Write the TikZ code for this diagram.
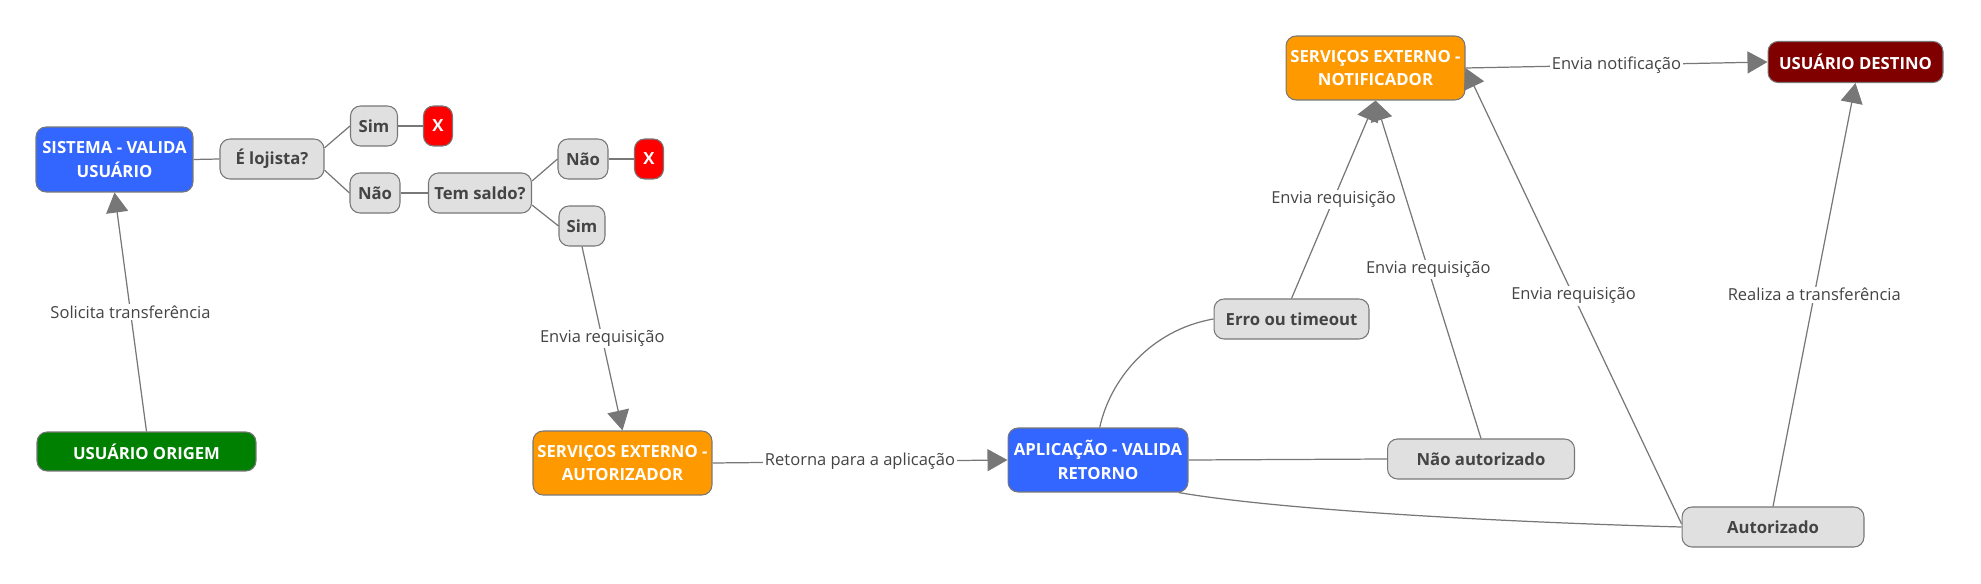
\documentclass[tikz,border=0pt]{standalone}
\usepackage{fontspec}
\setmainfont{Open Sans}
\usepackage{xcolor}
\usepackage{tikz}
\usetikzlibrary{arrows.meta,positioning}

\definecolor{edgegrey}{HTML}{777777}
\definecolor{textgrey}{HTML}{444444}
\definecolor{choicegrey}{HTML}{E0E0E0}
\definecolor{sysblue}{HTML}{3366FF}
\definecolor{svcorange}{HTML}{FF9900}
\definecolor{usergreen}{HTML}{008000}
\definecolor{userred}{HTML}{800000}
\definecolor{stopred}{HTML}{FF0000}

\begin{document}
\begin{tikzpicture}[
    x=0.02cm, y=-0.02cm,
    box/.style={rectangle, draw=edgegrey, line width=0.6pt, rounded corners=0.2cm,
        align=center, inner sep=1pt, minimum height=0.8cm, text=white,
        font=\bfseries\fontsize{9.5}{13.6}\selectfont},
    choice/.style={box, fill=choicegrey, text=textgrey},
    link/.style={draw=edgegrey, line width=0.7pt},
    arrow/.style={link, -{Triangle[length=0.4cm, width=0.44cm]}},
    tag/.style={fill=white, inner sep=1pt, text=textgrey, font=\fontsize{9.4}{11}\selectfont}
]
    \useasboundingbox (0,0) rectangle (1981,584);

    % Origin side
    \node[box, fill=usergreen, minimum width=4.38cm, minimum height=0.78cm] (origem) at (146.5,451.5) {USUÁRIO ORIGEM};
    \node[box, fill=sysblue, minimum width=3.14cm, minimum height=1.3cm] (sistema) at (114.5,159.5) {SISTEMA - VALIDA\\USUÁRIO};

    % Checks
    \node[choice, minimum width=2.08cm] (lojista) at (272,159) {É lojista?};
    \node[choice, minimum width=0.94cm] (simloja) at (374,126) {Sim};
    \node[box, fill=stopred, minimum width=0.58cm] (xloja) at (438,126) {X};
    \node[choice, minimum width=1.0cm] (naoloja) at (375,193) {Não};
    \node[choice, minimum width=2.06cm] (saldo) at (480,193) {Tem saldo?};
    \node[choice, minimum width=1.0cm] (naosaldo) at (583,159) {Não};
    \node[box, fill=stopred, minimum width=0.58cm] (xsaldo) at (649,159) {X};
    \node[choice, minimum width=0.92cm] (simsaldo) at (582,226) {Sim};

    % Services
    \node[box, fill=svcorange, minimum width=3.58cm, minimum height=1.28cm] (autorizador) at (622.5,463) {SERVIÇOS EXTERNO -\\AUTORIZADOR};
    \node[box, fill=sysblue, minimum width=3.6cm, minimum height=1.28cm] (aplicacao) at (1098,460) {APLICAÇÃO - VALIDA\\RETORNO};
    \node[choice, minimum width=3.1cm] (erro) at (1291.5,319) {Erro ou timeout};
    \node[choice, minimum width=3.74cm] (naoaut) at (1481,459) {Não autorizado};
    \node[choice, minimum width=3.64cm] (autorizado) at (1773,527) {Autorizado};
    \node[box, fill=svcorange, minimum width=3.58cm, minimum height=1.28cm] (notificador) at (1375.5,68) {SERVIÇOS EXTERNO -\\NOTIFICADOR};
    \node[box, fill=userred, minimum width=3.5cm, minimum height=0.82cm] (destino) at (1855.5,62) {USUÁRIO DESTINO};

    % Tree lines
    \draw[link] (sistema.east) -- (lojista.west);
    \draw[link] (lojista.12) -- (simloja.west);
    \draw[link] (lojista.-12) -- (naoloja.west);
    \draw[link] (simloja.east) -- (xloja.west);
    \draw[link] (naoloja.east) -- (saldo.west);
    \draw[link] (saldo.13) -- (naosaldo.west);
    \draw[link] (saldo.-13) -- (simsaldo.west);
    \draw[link] (naosaldo.east) -- (xsaldo.west);

    % Arrows
    \draw[arrow] (origem.north) -- node[tag] {Solicita transferência} (sistema.south);
    \draw[arrow] (simsaldo.south) -- node[tag] {Envia requisição} (autorizador.north);
    \draw[arrow] (autorizador.east) -- node[tag] {Retorna para a aplicação} (aplicacao.west);
    \draw[link] (aplicacao.87) .. controls (1110,380) and (1150,330) .. (erro.west);
    \draw[link] (aplicacao.east) -- (naoaut.west);
    \draw[link] (aplicacao.-22) .. controls (1280,510) and (1500,522) .. (autorizado.west);
    \draw[arrow] (erro.north) -- node[tag] {Envia requisição} (notificador.south);
    \draw[arrow] (naoaut.north) -- node[tag] {Envia requisição} (notificador.south);
    \draw[arrow] (autorizado.178) -- node[tag] {Envia requisição} (notificador.east);
    \draw[arrow] (autorizado.north) -- node[tag] {Realiza a transferência} (destino.south);
    \draw[arrow] (notificador.east) -- node[tag] {Envia notificação} (destino.west);

\end{tikzpicture}
\end{document}
